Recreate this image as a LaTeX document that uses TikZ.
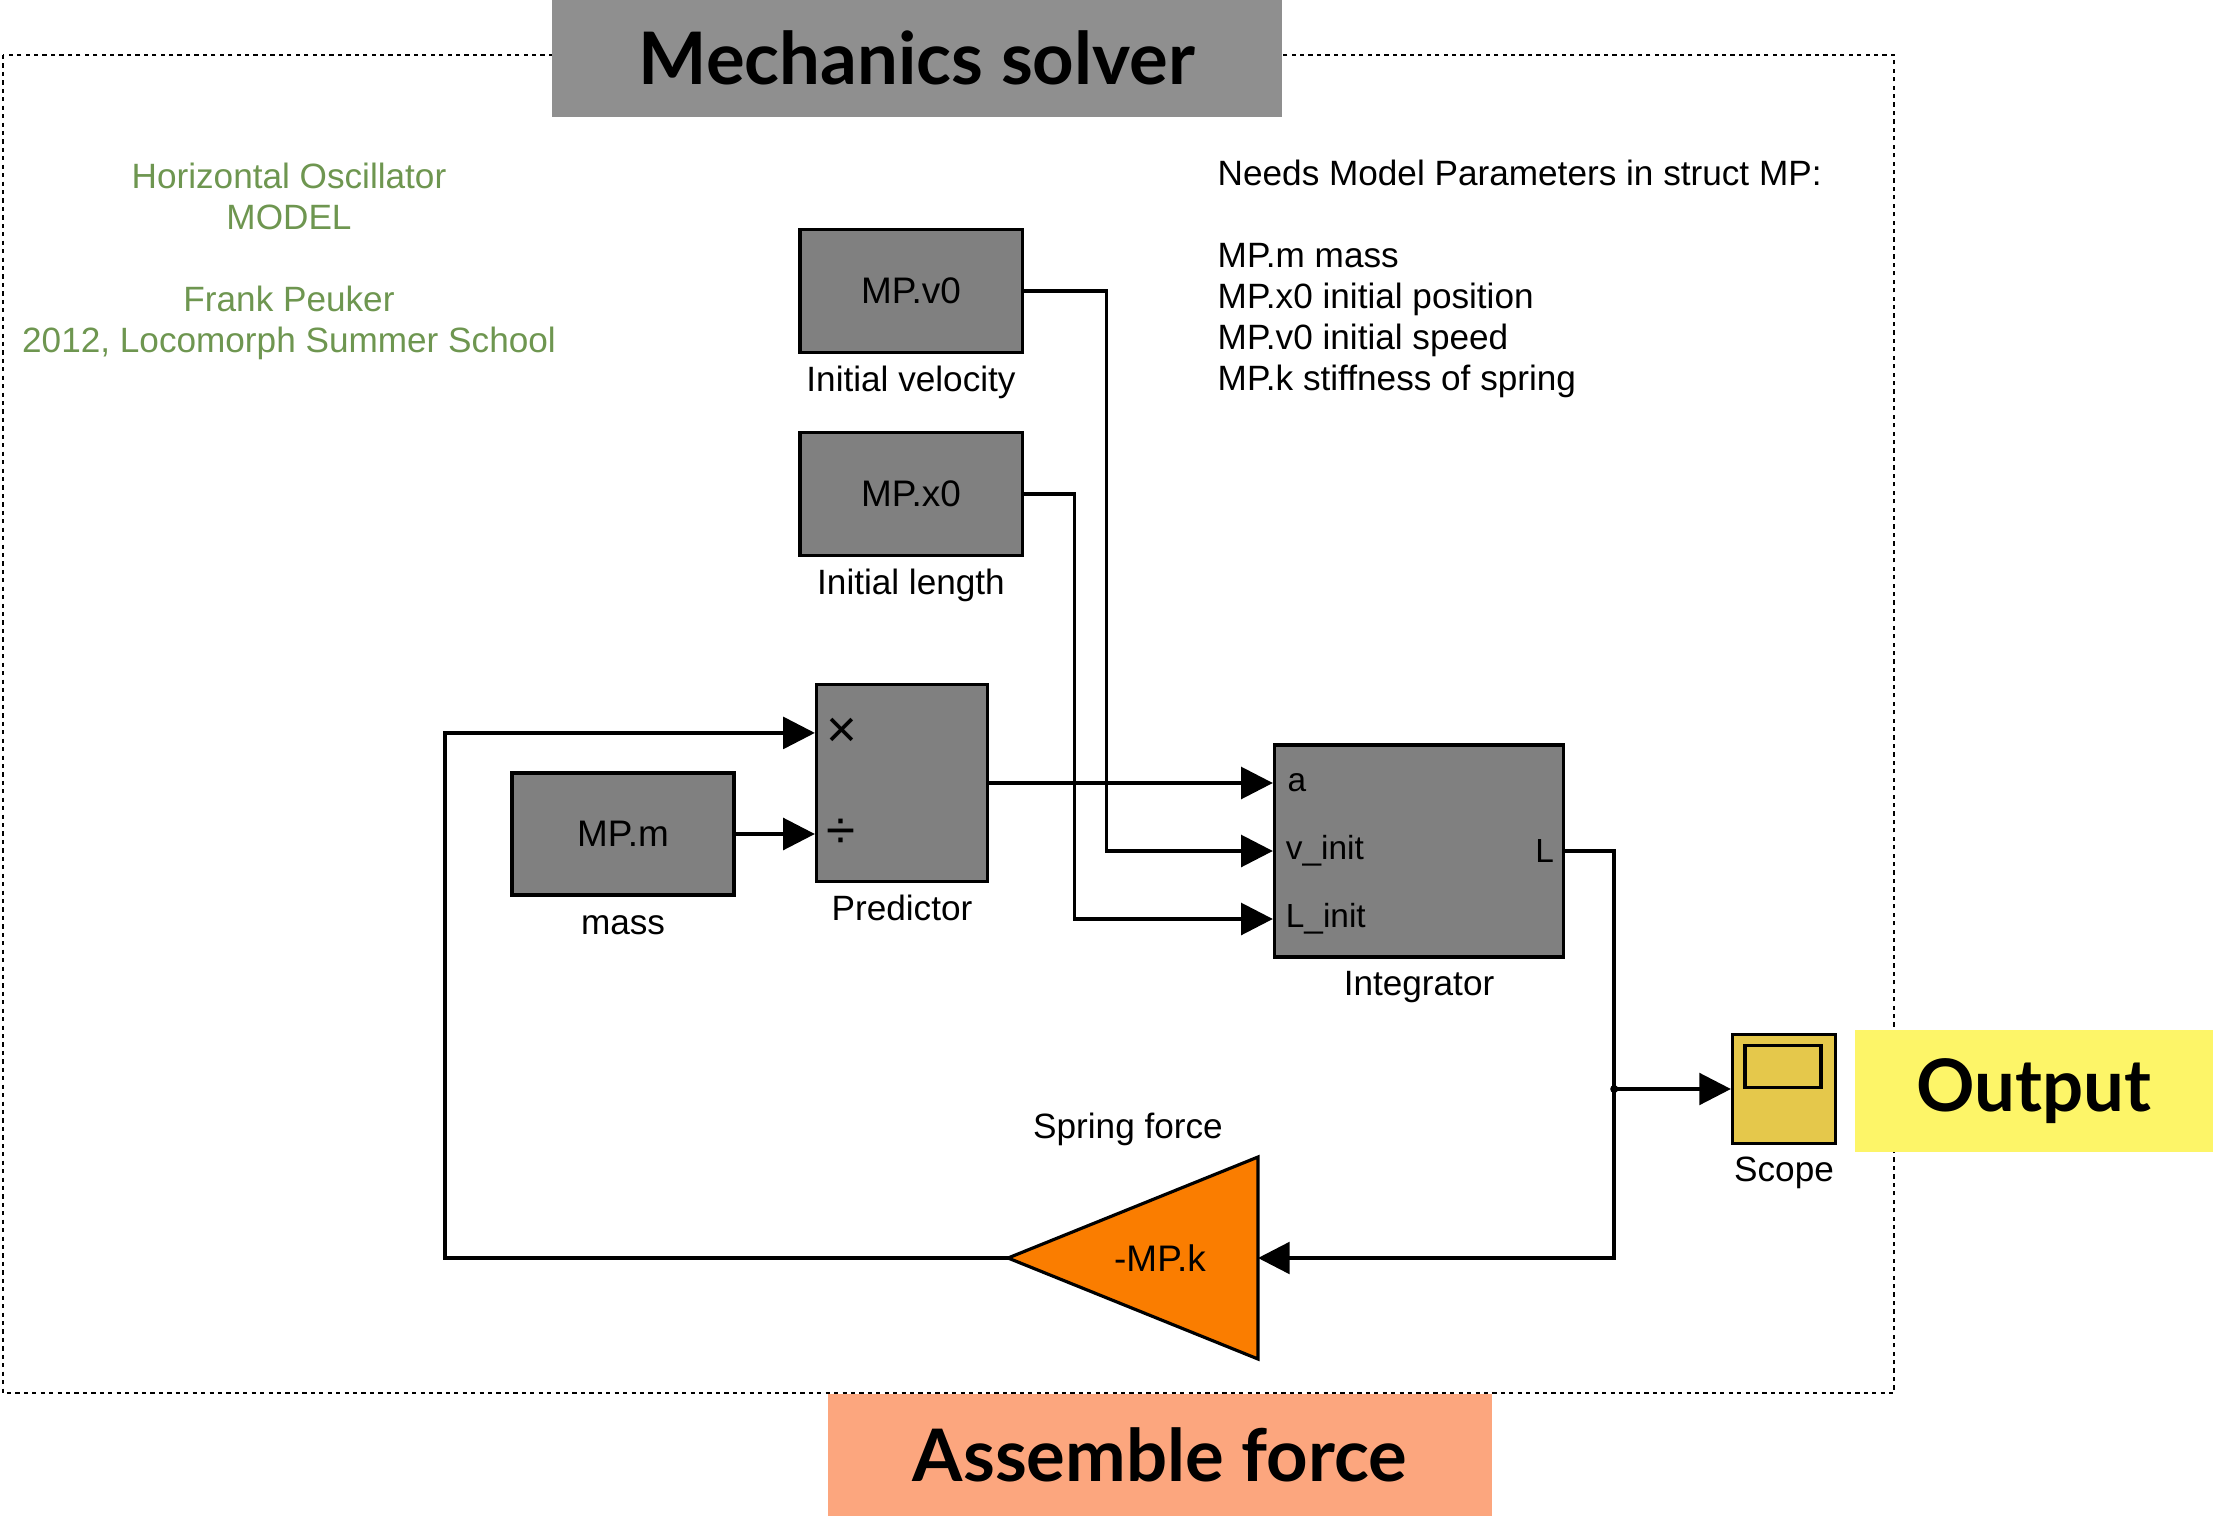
\documentclass[tikz,border=0pt]{standalone}
\usepackage{fontspec}
\setmainfont{Liberation Sans}
\newfontfamily\headfont{Lato}
\usetikzlibrary{positioning,arrows.meta,calc}
\definecolor{headgray}{RGB}{143,143,143}
\definecolor{blockgray}{RGB}{128,128,128}
\definecolor{outyellow}{RGB}{253,245,104}
\definecolor{forcesalmon}{RGB}{252,166,126}
\definecolor{scopeyellow}{RGB}{229,200,75}
\definecolor{gainorange}{RGB}{250,125,0}
\definecolor{notegreen}{RGB}{110,150,80}
\begin{document}
\begin{tikzpicture}[x=0.01cm,y=-0.01cm,
    block/.style={draw,line width=0.9pt,fill=blockgray,minimum width=2.22cm,minimum height=1.23cm,inner sep=0pt,font=\fontsize{10.5}{12}\selectfont},
    lbl/.style={inner sep=1pt,font=\fontsize{10}{12}\selectfont},
    port/.style={inner sep=0pt,anchor=west,font=\fontsize{9.5}{11}\selectfont},
    wire/.style={line width=1pt},
    sig/.style={wire,-{Triangle[length=9pt,width=9pt]}},
    banner/.style={inner sep=0pt,font=\headfont\bfseries\fontsize{20.6}{24}\selectfont}]
    \useasboundingbox (0,0) rectangle (2213,1516);
    \draw[line width=0.8pt,dash pattern=on 1.2pt off 1.2pt] (3,55) rectangle (1894,1393);

    \node[banner,fill=headgray,minimum width=7.30cm,minimum height=1.17cm] (solver) at (917,58) {Mechanics solver};
    \node[banner,fill=outyellow,minimum width=3.58cm,minimum height=1.22cm] (output) at (2034,1091) {Output};
    \node[banner,fill=forcesalmon,minimum width=6.64cm,minimum height=1.22cm] (assemble) at (1160,1455) {Assemble force};

    \node[anchor=north,inner sep=0pt,align=center,text=notegreen,font=\fontsize{10}{11.7}\selectfont] (title) at (289,162)
        {Horizontal Oscillator\\MODEL\\[11.7pt]Frank Peuker\\2012, Locomorph Summer School};
    \node[anchor=north west,inner sep=0pt,align=left,font=\fontsize{10}{11.7}\selectfont] (params) at (1217,159)
        {Needs Model Parameters in struct MP:\\[11.7pt]MP.m mass\\MP.x0 initial position\\MP.v0 initial speed\\MP.k stiffness of spring};

    \node[block] (v0) at (911,291) {MP.v0};
    \node[lbl,below=0.08cm of v0] (v0lbl) {Initial velocity};
    \node[block] (x0) at (911,494) {MP.x0};
    \node[lbl,below=0.08cm of x0] (x0lbl) {Initial length};
    \node[block,minimum width=1.71cm,minimum height=1.97cm] (pred) at (902,783) {};
    \node[lbl,below=0.08cm of pred] (predlbl) {Predictor};
    \node[block,minimum height=1.22cm] (mass) at (623,834) {MP.m};
    \node[lbl,below=0.15cm of mass] (masslbl) {mass};
    \node[block,minimum width=2.89cm,minimum height=2.12cm] (integ) at (1419,851) {};
    \node[lbl,below=0.08cm of integ] (integlbl) {Integrator};
    \node[draw,line width=0.9pt,fill=scopeyellow,minimum width=1.03cm,minimum height=1.09cm,inner sep=0pt] (scope) at (1784,1089) {};
    \draw[line width=0.9pt] ([shift={(14,13)}]scope.north west) rectangle ++(76,42);
    \node[lbl,below=0.08cm of scope] (scopelbl) {Scope};

    \draw[line width=0.9pt,fill=gainorange] (1008,1258) coordinate (gaintip) -- (1258,1157) -- (1258,1359) -- cycle;
    \coordinate (gainin) at (1258,1258);
    \node[lbl,font=\fontsize{10.5}{12}\selectfont] (gain) at (1160,1258) {-MP.k};
    \node[lbl] (gainlbl) at (1128,1129) {Spring force};

    \coordinate (pmul) at ($(pred.north west)!0.25!(pred.south west)$);
    \coordinate (pdiv) at (pred.west |- mass.east);
    \coordinate (ina) at (integ.west |- pred.east);
    \coordinate (inv) at (integ.west);
    \coordinate (inl) at ($(ina)!2!(integ.west)$);
    \node[port,font=\fontsize{15}{16}\selectfont] (smul) at ([xshift=3pt]pmul) {×};
    \node[port,font=\fontsize{15}{16}\selectfont] (sdiv) at ([xshift=3pt]pdiv) {÷};
    \node[port] (la) at ([xshift=4pt]ina) {a};
    \node[port] (lv) at ([xshift=3.5pt]inv) {v\_init};
    \node[port] (ll) at ([xshift=3.5pt]inl) {L\_init};
    \node[port,anchor=east] (lout) at ([xshift=-3pt]integ.east) {L};

    \draw[sig] (v0.east) -- ++(83,0) |- (inv);
    \draw[sig] (x0.east) -- ++(51,0) |- (inl);
    \draw[sig] (pred.east) -- (ina);
    \draw[sig] (mass.east) -- (pdiv);
    \draw[sig] (integ.east) -- ++(49,0) coordinate (split) |- (gainin);
    \fill (split |- scope.west) circle (4) coordinate (branch);
    \draw[sig] (branch) -- (scope.west);
    \draw[sig] (gaintip) -- ++(-563,0) |- (pmul);
\end{tikzpicture}
\end{document}
